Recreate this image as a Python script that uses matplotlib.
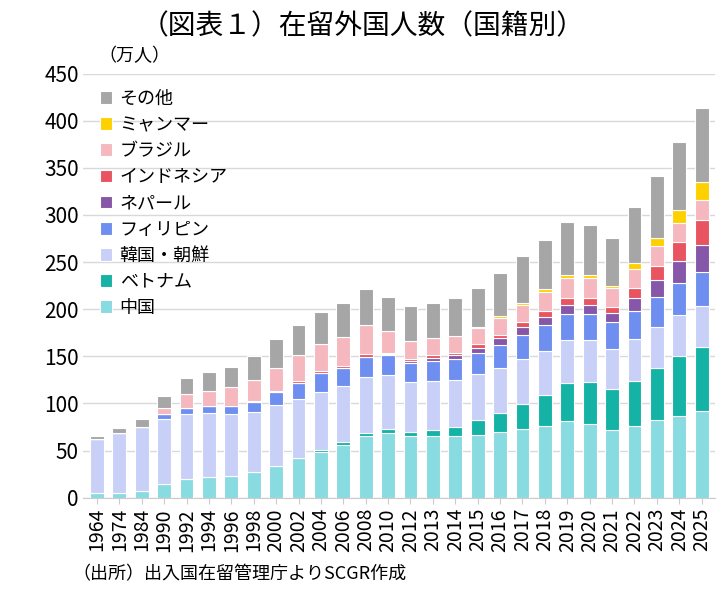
import matplotlib
matplotlib.use("Agg")
import matplotlib.pyplot as plt
import numpy as np

plt.rcParams['font.family'] = ['Noto Sans CJK JP', 'DejaVu Sans']

years = ["1964","1974","1984","1990","1992","1994","1996","1998","2000","2002","2004","2006","2008","2010",
         "2012","2013","2014","2015","2016","2017","2018","2019","2020","2021","2022","2023","2024","2025"]
china    = [5,5,7,15,20,22,23,27,34,42,49,56,65,69,65,65,65,67,70,73,76,81,78,72,76,82,87,92]
vietnam  = [0,0,0,0,0,0,0,0,0,0,2,3,4,4,5,7,10,15,20,26,33,41,45,43,48,56,63,68]
korea    = [57,64,68,69,69,68,66,64,64,63,61,60,59,57,53,52,50,49,48,48,47,45,44,43,44,43,44,43]
phil     = [0,0,0,5,6,7,8,11,14,17,20,19,21,21,20,21,22,23,24,26,27,28,28,28,30,32,34,36]
nepal    = [0,0,0,0,0,0,0,0,0,0,0,0,0,1,2,3,4,5,7,8,9,10,10,10,14,18,23,29]
indo     = [0,0,0,0,0,0,0,1,1,2,2,2,3,2,2,3,3,4,4,5,6,7,7,6,10,15,20,27]
brazil   = [0,0,0,6,15,16,20,22,25,27,29,31,31,23,19,18,18,17,18,19,20,21,21,20,21,21,21,21]
myanmar  = [0,0,0,0,0,0,0,0,0,0,0,0,0,0,0,0,0,1,2,2,3,3,3,3,6,9,13,19]
other    = [3,5,8,13,17,20,22,25,30,32,34,36,38,36,37,38,40,42,45,49,52,57,53,51,59,65,72,78]

series = [("中国", china, "#88dbe0"), ("ベトナム", vietnam, "#14b3a6"), ("韓国・朝鮮", korea, "#c8d0f8"),
          ("フィリピン", phil, "#6f8ff0"), ("ネパール", nepal, "#8656a8"), ("インドネシア", indo, "#e85460"),
          ("ブラジル", brazil, "#f5b8be"), ("ミャンマー", myanmar, "#ffd000"), ("その他", other, "#a6a6a6")]

fig = plt.figure(figsize=(7.26, 5.89), dpi=100)
ax = fig.add_axes([0.115, 0.155, 0.87, 0.72])
x = np.arange(len(years))
bottom = np.zeros(len(years))
handles = []
for name, vals, col in series:
    b = ax.bar(x, vals, 0.62, bottom=bottom, color=col, edgecolor="white", linewidth=0.8, label=name)
    bottom += np.array(vals)
    handles.append(b)

ax.set_ylim(0, 450)
ax.set_yticks(range(0, 451, 50))
ax.set_xlim(-0.6, len(years) - 0.4)
ax.set_xticks(x)
ax.set_xticklabels(years, rotation=90, fontsize=14)
ax.tick_params(axis='y', labelsize=15, length=0)
ax.tick_params(axis='x', length=4, color="#cccccc")
ax.yaxis.grid(True, color="#d9d9d9", linewidth=1)
ax.set_axisbelow(True)
for s in ["top", "right", "left"]:
    ax.spines[s].set_visible(False)
ax.spines["bottom"].set_color("#cccccc")

leg = ax.legend(handles[::-1], [s[0] for s in series][::-1], loc="upper left", bbox_to_anchor=(0.0, 1.0),
                frameon=False, fontsize=13, handlelength=0.7, handleheight=0.7, labelspacing=0.45,
                handletextpad=0.4)

fig.text(0.5, 0.955, "（図表１）在留外国人数（国籍別）", ha="center", va="center", fontsize=20)
fig.text(0.135, 0.905, "（万人）", ha="left", va="center", fontsize=13)
fig.text(0.1, 0.025, "（出所）出入国在留管理庁よりSCGR作成", ha="left", va="center", fontsize=13)

fig.savefig("out.png", dpi=100)
